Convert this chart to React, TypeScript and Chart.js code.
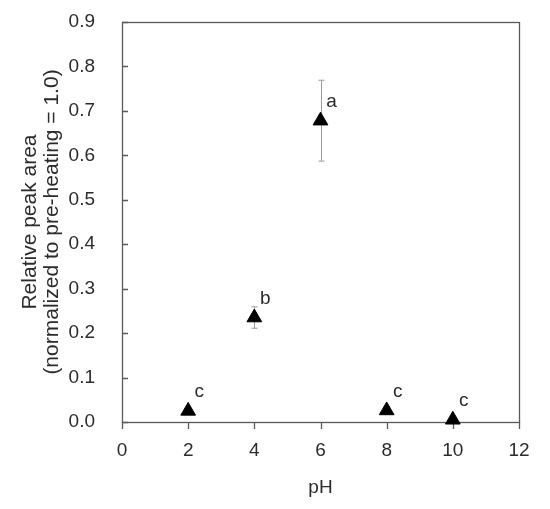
import React, { useEffect, useRef } from 'react';
import { Chart, registerables } from 'chart.js';

Chart.register(...registerables);

// ---- data ----
const phValues = [2, 4, 6, 8, 10];
const relativeArea = [0.025, 0.235, 0.678, 0.026, 0.005];
const errorValues = [0, 0.024, 0.091, 0, 0];
const groupLetters = ['c', 'b', 'a', 'c', 'c'];
const xTickValues = [0, 2, 4, 6, 8, 10, 12];
const yTickLabels = ['0.0', '0.1', '0.2', '0.3', '0.4', '0.5', '0.6', '0.7', '0.8', '0.9'];
const xAxisTitle = 'pH';
const yAxisTitle = ['Relative peak area', '(normalized to pre-heating = 1.0)'];

const FONT = "'Liberation Sans', Arial, sans-serif";
const TEXT = '#2b2b2b';
const AXIS = '#5a5a5a';

const framePlugin = {
  id: 'frame',
  beforeDatasetsDraw(chart: any) {
    const { ctx, chartArea: a, scales } = chart;
    const xs = scales.x;
    const ys = scales.y;
    ctx.save();
    // error bars
    ctx.strokeStyle = '#9a9a9a';
    ctx.lineWidth = 1;
    phValues.forEach((ph, i) => {
      const e = errorValues[i];
      if (!e) return;
      const px = Math.round(xs.getPixelForValue(ph)) + 0.5;
      const top = ys.getPixelForValue(relativeArea[i] + e);
      const bot = ys.getPixelForValue(relativeArea[i] - e);
      ctx.beginPath();
      ctx.moveTo(px, top);
      ctx.lineTo(px, bot);
      ctx.moveTo(px - 3, top);
      ctx.lineTo(px + 3, top);
      ctx.moveTo(px - 3, bot);
      ctx.lineTo(px + 3, bot);
      ctx.stroke();
    });
    // box
    ctx.strokeStyle = AXIS;
    ctx.lineWidth = 1.3;
    ctx.strokeRect(Math.round(a.left) + 0.5, Math.round(a.top) + 0.5, Math.round(a.right - a.left), Math.round(a.bottom - a.top));
    // x ticks (outward)
    ctx.beginPath();
    xs.ticks.forEach((t: any) => {
      const px = Math.round(xs.getPixelForValue(t.value)) + 0.5;
      ctx.moveTo(px, a.bottom);
      ctx.lineTo(px, a.bottom + 7);
    });
    // y ticks (inward)
    ys.ticks.forEach((t: any) => {
      const py = Math.round(ys.getPixelForValue(t.value)) + 0.5;
      ctx.moveTo(a.left, py);
      ctx.lineTo(a.left + 6, py);
    });
    ctx.stroke();
    ctx.restore();
  },
  afterDatasetsDraw(chart: any) {
    const { ctx, scales } = chart;
    ctx.save();
    ctx.fillStyle = TEXT;
    ctx.font = `19px ${FONT}`;
    ctx.textAlign = 'center';
    ctx.textBaseline = 'middle';
    phValues.forEach((ph, i) => {
      const px = scales.x.getPixelForValue(ph);
      const py = scales.y.getPixelForValue(relativeArea[i]);
      ctx.fillText(groupLetters[i], px + 11, py - 19);
    });
    ctx.restore();
  },
};

export default function App() {
  const ref = useRef<HTMLCanvasElement | null>(null);
  useEffect(() => {
    document.body.style.margin = '0';
    const chart = new Chart(ref.current as HTMLCanvasElement, {
      type: 'scatter',
      data: {
        datasets: [
          {
            data: phValues.map((x, i) => ({ x, y: relativeArea[i] })),
            pointStyle: 'triangle',
            radius: 8.5,
            backgroundColor: '#000',
            borderColor: '#000',
            borderWidth: 1,
            clip: false as any,
          },
        ],
      },
      options: {
        animation: false,
        responsive: true,
        maintainAspectRatio: false,
        layout: { padding: { top: 22, right: 31, left: 0, bottom: 0 } },
        plugins: { legend: { display: false }, tooltip: { enabled: false } },
        scales: {
          x: {
            type: 'linear',
            min: 0,
            max: 12,
            afterBuildTicks: (s: any) => {
              s.ticks = xTickValues.map((v) => ({ value: v }));
            },
            afterFit: (s: any) => {
              s.height = 87;
            },
            grid: { display: true, drawOnChartArea: false, drawTicks: true, tickLength: 17, color: 'rgba(0,0,0,0)' },
            border: { display: false },
            ticks: { color: TEXT, font: { family: FONT, size: 19 }, padding: 0, maxRotation: 0 },
            title: {
              display: true,
              text: xAxisTitle,
              color: TEXT,
              font: { family: FONT, size: 19 },
              padding: { top: 0, bottom: 10 },
            },
          },
          y: {
            type: 'linear',
            min: 0,
            max: 0.9,
            ticks: {
              stepSize: 0.1,
              color: TEXT,
              font: { family: FONT, size: 19 },
              padding: 0,
              callback: (_v: any, i: number) => yTickLabels[i],
            },
            afterFit: (s: any) => {
              s.width = 122;
            },
            grid: { display: true, drawOnChartArea: false, drawTicks: true, tickLength: 27, color: 'rgba(0,0,0,0)' },
            border: { display: false },
            title: {
              display: true,
              text: yAxisTitle,
              color: TEXT,
              font: { family: FONT, size: 21, lineHeight: 1.05 },
              padding: { top: 19, bottom: 0 },
            },
          },
        },
      },
      plugins: [framePlugin],
    });
    return () => chart.destroy();
  }, []);
  return (
    <div style={{ width: 550, height: 509, position: 'relative', background: '#fff' }}>
      <canvas ref={ref} />
    </div>
  );
}
